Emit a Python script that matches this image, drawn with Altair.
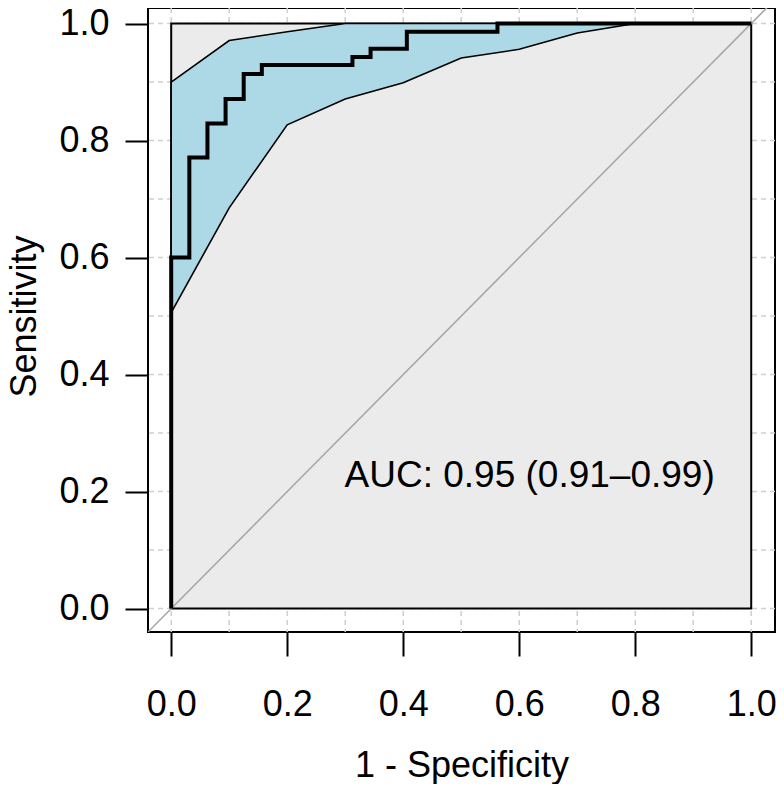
import altair as alt
import pandas as pd

# ---- data ----
# ROC curve vertices (step-after: horizontal move first, then vertical)
roc_fpr = [0.0, 0.0, 1/32, 2/32, 3/32, 4/32, 5/32, 10/32, 11/32, 13/32, 18/32, 1.0]
roc_tpr = [0.0, 0.600, 0.771, 0.829, 0.871, 0.914, 0.929, 0.943, 0.957, 0.986, 1.0, 1.0]

# Confidence band of sensitivity
ci_fpr = [0.0, 0.1, 0.2, 0.3, 0.4, 0.5, 0.6, 0.7, 0.8, 0.9, 1.0]
ci_upper = [0.900, 0.971, 0.986, 1.0, 1.0, 1.0, 1.0, 1.0, 1.0, 1.0, 1.0]
ci_lower = [0.506, 0.685, 0.827, 0.871, 0.899, 0.941, 0.956, 0.984, 1.0, 1.0, 1.0]

grid_vals = [0.0, 0.1, 0.2, 0.3, 0.4, 0.5, 0.6, 0.7, 0.8, 0.9, 1.0]
tick_vals = [0.0, 0.2, 0.4, 0.6, 0.8, 1.0]
diag = [-0.04, 1.04]
auc_label = "AUC: 0.95 (0.91\u20130.99)"

FONT = "Liberation Sans"
FS = 36

roc_df = pd.DataFrame({"x": roc_fpr, "y": roc_tpr, "i": list(range(len(roc_fpr)))})
ci_df = pd.DataFrame({"x": ci_fpr, "lo": ci_lower, "hi": ci_upper})
grid_df = pd.DataFrame({"v": grid_vals})
diag_df = pd.DataFrame({"x": diag, "y": diag})
box_df = pd.DataFrame({"x": [0.0], "x2": [1.0], "y": [0.0], "y2": [1.0]})
txt_df = pd.DataFrame({"x": [0.618], "y": [0.208], "t": [auc_label]})

xscale = alt.Scale(domain=[-0.04, 1.041], nice=False, zero=False)
yscale = alt.Scale(domain=[-0.04, 1.0266], nice=False, zero=False)

xaxis = alt.Axis(values=tick_vals, format=".1f", title="1 - Specificity", grid=False,
                 domain=False, tickSize=24, tickWidth=2, tickColor="black",
                 labelFontSize=FS, labelFont=FONT, labelColor="black", labelPadding=31,
                 labelFlush=False, labelOverlap=False,
                 titleFontSize=FS, titleFont=FONT, titleFontWeight="normal",
                 titleColor="black", titleY=144, titleBaseline="alphabetic")
yaxis = alt.Axis(values=tick_vals, format=".1f", title="Sensitivity", grid=False,
                 domain=False, tickSize=23, tickWidth=2, tickColor="black",
                 labelFontSize=FS, labelFont=FONT, labelColor="black", labelPadding=16,
                 labelOverlap=False,
                 titleFontSize=FS, titleFont=FONT, titleFontWeight="normal",
                 titleColor="black", titleX=-113, titleY=308, titleAngle=270,
                 titleAlign="center", titleBaseline="alphabetic")


def X(f):
    return alt.X(f, type="quantitative", scale=xscale, axis=xaxis)


def Y(f):
    return alt.Y(f, type="quantitative", scale=yscale, axis=yaxis)


vgrid = alt.Chart(grid_df).mark_rule(color="#cfcfcf", strokeWidth=1.5, strokeDash=[5, 4]).encode(
    x=X("v"))
hgrid = alt.Chart(grid_df).mark_rule(color="#cfcfcf", strokeWidth=1.5, strokeDash=[5, 4]).encode(
    y=Y("v"))

box = alt.Chart(box_df).mark_rect(fill="#ebebeb", stroke="black", strokeWidth=2).encode(
    x=X("x"), x2="x2", y=Y("y"), y2="y2")

diag_line = alt.Chart(diag_df).mark_line(color="#a6a6a6", strokeWidth=1.5, clip=True).encode(
    x=X("x"), y=Y("y"))

band = alt.Chart(ci_df).mark_area(color="#add8e6", fillOpacity=1, stroke="black",
                                  strokeWidth=1.6, interpolate="linear").encode(
    x=X("x"), y=Y("lo"), y2="hi")

roc = alt.Chart(roc_df).mark_line(color="black", strokeWidth=4, interpolate="step-after",
                                  strokeJoin="miter", strokeCap="butt").encode(
    x=X("x"), y=Y("y"), order="i:Q")

txt = alt.Chart(txt_df).mark_text(font=FONT, fontSize=37, color="black", align="center",
                                  baseline="alphabetic").encode(
    x=X("x"), y=Y("y"), text="t:N")

chart = alt.layer(vgrid, hgrid, box, diag_line, band, roc, txt).properties(
    width=627, height=624,
    autosize=alt.AutoSizeParams(type="none"),
    padding={"left": 140, "top": 0, "right": 1, "bottom": 152},
    background="white",
).configure_view(stroke="black", strokeWidth=2, fill="white")

chart.save("out.html", embed_options={"renderer": "svg", "actions": False})
